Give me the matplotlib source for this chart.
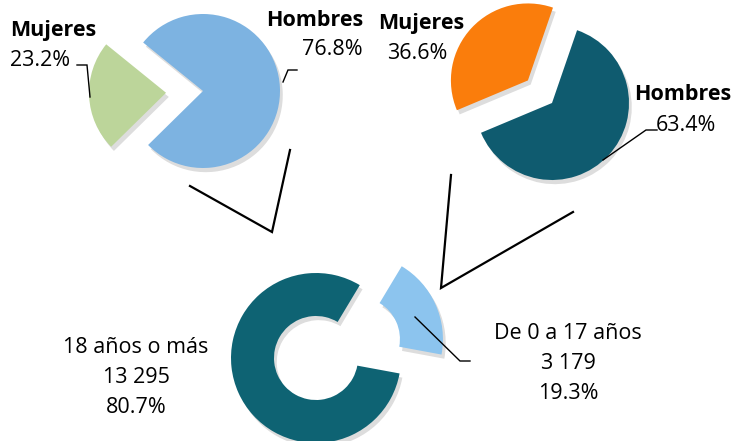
import matplotlib.pyplot as plt
import matplotlib.patheffects as pe

plt.rcParams['font.family'] = ['Open Sans', 'DejaVu Sans']

# Data
sexo = ["Mujeres", "Hombres"]
pct_izq = [23.2, 76.8]      # left pie
pct_der = [36.6, 63.4]      # right pie
grupos = ["18 años o más", "De 0 a 17 años"]
poblacion = [13295, 3179]
pct_grupos = [80.7, 19.3]

W, H = 734, 441


def Y(y):
    # pixel row (from top) -> data y (from bottom)
    return H - y


fig = plt.figure(figsize=(W / 100, H / 100), dpi=100)
ax = fig.add_axes([0, 0, 1, 1])

shadow = [pe.SimplePatchShadow(offset=(2, -3), alpha=0.2, shadow_rgbFace='#555555'), pe.Normal()]

# left pie
w1, _ = ax.pie(pct_izq, colors=["#BCD59A", "#7DB3E1"], startangle=141, counterclock=True,
               center=(203, Y(91)), radius=77, explode=[37, 0])
# right pie
w2, _ = ax.pie(pct_der, colors=["#FA7D0C", "#0F5B6F"], startangle=71, counterclock=True,
               center=(552, Y(103)), radius=77, explode=[33, 0])
# donut
w3, _ = ax.pie(pct_grupos, colors=["#0E6373", "#8CC4EE"], startangle=59, counterclock=True,
               center=(316, Y(358)), radius=85, explode=[0, 46],
               wedgeprops=dict(width=43))
for w in list(w1) + list(w2) + list(w3):
    w.set_path_effects(shadow)

fs = 15.5
# top labels
ax.text(10, Y(36), sexo[0], fontsize=fs, fontweight='bold', ha='left', va='baseline')
ax.text(10, Y(66), f"{pct_izq[0]:.1f}%", fontsize=fs, ha='left', va='baseline')
ax.text(363, Y(26), sexo[1], fontsize=fs, fontweight='bold', ha='right', va='baseline')
ax.text(363, Y(55), f"{pct_izq[1]:.1f}%", fontsize=fs, ha='right', va='baseline')

ax.text(421, Y(29), sexo[0], fontsize=fs, fontweight='bold', ha='center', va='baseline')
ax.text(417, Y(59), f"{pct_der[0]:.1f}%", fontsize=fs, ha='center', va='baseline')
ax.text(683, Y(100), sexo[1], fontsize=fs, fontweight='bold', ha='center', va='baseline')
ax.text(686, Y(131), f"{pct_der[1]:.1f}%", fontsize=fs, ha='center', va='baseline')

# bottom labels
def miles(n):
    return f"{n:,}".replace(",", " ")

for i, (x0, y0) in enumerate([(136, 353), (568, 339)]):
    lines = [grupos[i], miles(poblacion[i]), f"{pct_grupos[i]:.1f}%"]
    for k, s in enumerate(lines):
        ax.text(x0, Y(y0 + 30 * k), s, fontsize=fs, ha='center', va='baseline')

# leader lines
def line(pts, lw=1.0):
    ax.plot([p[0] for p in pts], [Y(p[1]) for p in pts], color='black', lw=lw,
            solid_joinstyle='miter')

line([(77, 65), (87, 65), (90, 97)])
line([(297, 70), (288, 70), (283, 82)])
line([(657, 130), (646, 130), (603, 160)])
line([(415, 317), (460, 361), (470, 361)])

# brackets between pies and donut
line([(190, 186), (272, 232), (290, 150)], lw=1.6)
line([(451, 175), (441, 288), (573, 212)], lw=1.6)

ax.set_xlim(0, W)
ax.set_ylim(0, H)
ax.set_aspect('equal')
ax.axis('off')

fig.savefig("out.png", dpi=100)
